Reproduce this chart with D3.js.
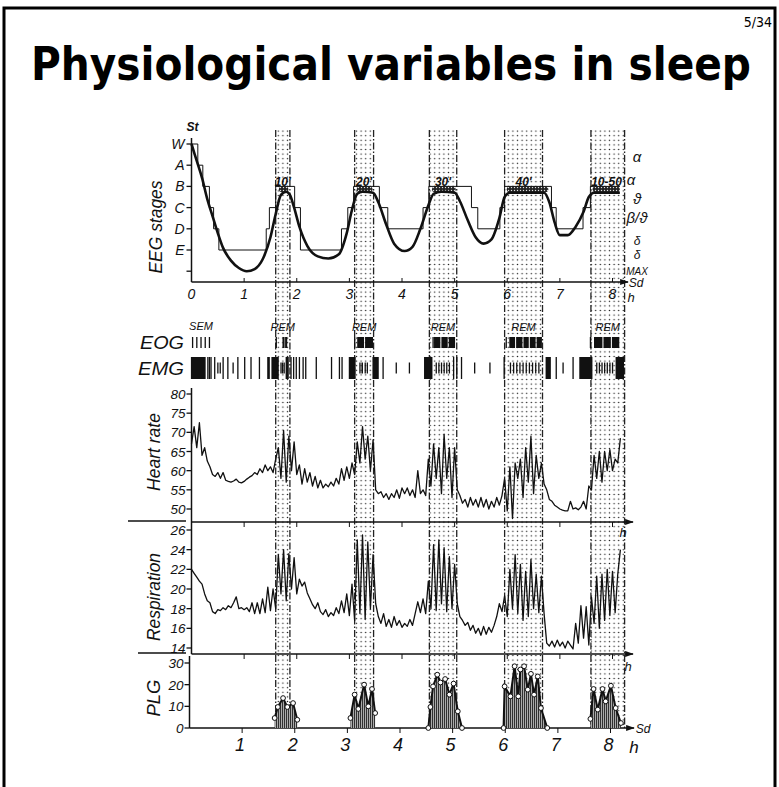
<!DOCTYPE html>
<html><head><meta charset="utf-8">
<script src="https://cdn.jsdelivr.net/npm/d3@7"></script>
<style>body{margin:0;background:#fff} svg{display:block}</style>
</head><body>
<script>
// ---------------- DATA ----------------
const titleText = "Physiological variables in sleep";
const pageText = "5/34";
const hourTicks = [0,1,2,3,4,5,6,7,8];
const stageLetters = ["W","A","B","C","D","E",""];
const waveLabels = ["α","α","ϑ","β/ϑ","δ","δ","MAX"];
const waveLevels = [0.66,1.72,2.64,3.5,4.55,5.22,5.97];
const remBands = [[1.6,1.87],[3.1,3.46],[4.52,5.04],[5.95,6.67],[7.59,8.23]];
const remMinutes = ["10'","20'","30'","40'","10-50'"];
const remHatch = [[1.66,1.84],[3.14,3.44],[4.57,5.02],[5.99,6.78],[7.62,8.14]];
const hypnoSteps = [[0,0],[0.12,1],[0.215,2],[0.34,3],[0.42,4],[0.52,5],[1.42,4],[1.48,3],[1.6,2],[1.96,3],[2.07,5],[2.85,4],[2.97,3],[3.08,2],[3.57,3],[3.73,4],[4.4,3],[4.51,2],[5.32,3],[5.44,4],[5.86,3],[5.95,2],[6.84,3],[6.93,4],[7.44,3],[7.58,2],[8.14,2]];
const eegSmooth = [[0,0],[0.1,0.8],[0.2,1.6],[0.3,2.6],[0.4,3.4],[0.5,4.2],[0.6,4.9],[0.75,5.5],[0.9,5.85],[1.05,6.0],[1.2,5.9],[1.35,5.45],[1.5,4.4],[1.6,3.3],[1.7,2.4],[1.8,2.25],[1.87,2.4],[1.95,3.0],[2.05,3.9],[2.2,4.8],[2.4,5.3],[2.6,5.4],[2.8,5.2],[2.95,4.2],[3.05,3.1],[3.15,2.35],[3.25,2.25],[3.45,2.3],[3.55,2.75],[3.7,3.8],[3.85,4.7],[4.05,5.05],[4.2,4.85],[4.35,4.0],[4.5,2.9],[4.6,2.35],[4.75,2.25],[5.0,2.3],[5.1,2.7],[5.25,3.6],[5.4,4.4],[5.55,4.7],[5.7,4.5],[5.85,3.5],[5.95,2.5],[6.05,2.3],[6.7,2.3],[6.8,2.75],[6.9,3.7],[7.0,4.3],[7.15,4.3],[7.3,3.9],[7.45,3.2],[7.55,2.5],[7.65,2.3],[8.14,2.3]];
const traceStep = 0.05;
const hrValues = [67,71.5,66,72.5,64,66,62.5,61,59,58.5,59.5,58,59.5,57.5,57.2,57,57.3,57.8,57,56.8,
57.2,57.8,58.3,58.7,59.5,59,60.5,59.5,61.5,60,61,59.5,63,66,58,70.5,57,69,60,67.5,
59,61.5,56.5,60.5,57,59.5,56,58.5,55.5,57.5,55.5,56.5,55.8,57,56,58,56.5,60.5,57.5,61,
58,62,59,67.5,62,71.5,63,69,60,68,55,54,54.5,53,54,52.5,54,53,55,52.8,
55.5,54,55.5,53.5,55,53,60,54,55,53.5,63,56,67,58,66,54,69.5,58,66,53,
66,55,53.5,51.5,52.5,50.5,53,51,52.5,50.5,53,50.5,52.5,50,52,50.5,53,51,53.5,58,
49.5,61,47.5,62,58,63,53,66,57,69,54,64,58,62,56.5,55,52.5,52,51,50.5,
50,49.7,49.5,49.5,52,50,50.3,49.8,50.5,52,50,56,55,64,58,65,57,65,60,65.5,
60,63,62,68.5];
const respValues = [22,21.6,21.2,20.8,20.5,19.5,18.8,18.6,17.7,17.5,17.9,17.8,18.1,17.9,18.3,18.1,18.6,19.2,18,18.1,
17.9,18.1,17.7,18.6,17.5,18.6,17.5,19,17.6,20.2,17.8,20,18,23.5,19.5,24,18.8,23.6,20,23.2,
19.5,21,20.3,20.7,19.6,19,18.4,18,18.6,17.7,17.4,17.9,17.2,17.6,17.3,18.1,17.5,18.8,17.6,19.5,
17.3,20.5,16.8,25,17.5,25.5,16.9,24.8,18,23.5,18.5,17.2,16.5,17.5,16.2,16.9,16.1,17.2,16.3,16.8,
16.1,16.5,16.2,16.9,16.3,17.5,18.7,17.6,19,17.5,20.8,18,24.5,17.8,25,18.5,24.2,17.7,23.3,18,
22.5,18.5,17.2,16.8,16.3,16.6,15.8,16.3,15.5,16,15.3,16.2,15.4,16.1,15.6,16.3,17.2,18.5,17.7,19.3,
17.2,22,18,23.5,17.5,22.5,16.8,21.8,17.2,23,18,21.5,17.6,21.3,17.5,14.5,14.2,14.7,14.1,14.8,
14.2,14.6,14.0,14.7,14.3,13.9,16.5,14.5,18.3,15,18.2,14.3,19.2,16.5,21.3,16,21.5,16.8,22,17.3,
21.8,17.6,21.5,24];
const hrTicks = [50,55,60,65,70,75,80];
const respTicks = [14,16,18,20,22,24,26];
const plgTicks = [0,10,20,30];
const plgSeries = [
 [[1.58,4.6],[1.64,9.7],[1.74,13.8],[1.82,9.7],[1.93,11.5],[2.01,3.8]],
 [[3.02,4.6],[3.1,15.4],[3.17,8.8],[3.28,20],[3.36,10],[3.43,18],[3.49,6.9]],
 [[4.5,0],[4.54,9.7],[4.59,19.2],[4.67,24.6],[4.73,21],[4.82,22.6],[4.9,15.4],[4.98,20.5],[5.06,7.7],[5.14,0]],
 [[5.93,0],[5.95,19.2],[6.06,14.6],[6.14,28.5],[6.21,14.6],[6.25,27],[6.32,28.5],[6.39,17.7],[6.45,25],[6.51,15.4],[6.58,23.8],[6.64,9.2],[6.76,0]],
 [[7.58,4.2],[7.64,18],[7.72,8.5],[7.81,18],[7.87,12.3],[7.97,19.5],[8.06,9.2],[8.16,2.3]]
];
const eogMarks = [[0.02,0.02],[0.1,0.1],[0.18,0.18],[0.26,0.26],[0.34,0.34],
 [1.61,1.61],[1.74,1.78],[1.79,1.83],
 [3.1,3.1],[3.16,3.29],[3.31,3.46],
 [4.59,4.59],[4.62,4.74],[4.76,4.88],[4.9,5.02],
 [5.98,5.98],[6.05,6.16],[6.18,6.3],[6.32,6.42],[6.44,6.55],[6.57,6.67],
 [7.58,7.58],[7.66,7.82],[7.84,7.98],[8.0,8.14]];
const emgMarks = [[0,0.28,1],[0.31,0.31,1],[0.34,0.34,1],[0.37,0.37,1],[0.44,0.44,1],[0.5,0.5,0.5],[0.545,0.545,0.5],[0.6,0.6,1],[0.69,0.69,1],[0.79,0.79,0.5],[0.88,0.88,1],[1.01,1.01,1],[1.13,1.13,1],[1.29,1.29,1],
 [1.45,1.5,1],[1.53,1.67,1],[1.7,1.7,0.5],[1.73,1.73,0.5],[1.76,1.76,0.5],[1.8,1.86,1],[1.89,1.89,1],[1.94,1.94,1],[1.99,1.99,1],[2.05,2.05,1],[2.12,2.12,1],[2.17,2.17,1],
 [2.37,2.37,1],[2.66,2.66,1],[2.81,2.81,1],[2.86,2.86,1],[3.0,3.13,1],[3.2,3.2,0.5],[3.24,3.27,0.5],[3.3,3.3,0.5],[3.34,3.34,0.5],[3.45,3.57,1],[3.64,3.64,1],[3.89,3.89,0.5],[4.14,4.14,0.5],
 [4.43,4.59,1],[4.65,4.65,0.5],[4.7,4.7,0.5],[4.75,4.75,0.5],[4.8,4.8,0.5],[4.85,4.85,0.5],[4.9,4.9,0.5],[4.98,4.98,1],[5.04,5.04,1],[5.13,5.13,1],[5.38,5.38,0.5],[5.67,5.67,0.5],[5.94,5.94,1],
 [6.06,6.06,0.5],[6.12,6.12,0.5],[6.18,6.18,0.5],[6.24,6.24,0.5],[6.3,6.3,0.5],[6.36,6.36,0.5],[6.42,6.42,0.5],[6.48,6.48,0.5],[6.54,6.54,0.5],[6.6,6.6,0.5],[6.74,6.84,1],[6.93,6.93,1],[7.06,7.06,0.5],[7.25,7.25,1],
 [7.38,7.63,1],[7.7,7.7,0.5],[7.75,7.75,0.5],[7.8,7.8,0.5],[7.85,7.85,0.5],[7.9,7.9,0.5],[7.95,7.95,0.5],[8.0,8.0,0.5],[8.07,8.23,1]];

// ---------------- DRAW ----------------
const W = 779, H = 787;
const svg = d3.select("body").append("svg").attr("width", W).attr("height", H);
const ink = "#111";
const FONT = "'Liberation Sans', Arial, sans-serif";
const defs = svg.append("defs");
const dots = defs.append("pattern").attr("id","dots").attr("patternUnits","userSpaceOnUse").attr("width",4.6).attr("height",4.6);
dots.append("circle").attr("cx",2.3).attr("cy",2.3).attr("r",0.75).attr("fill","#222");
const vh = defs.append("pattern").attr("id","vhatch").attr("patternUnits","userSpaceOnUse").attr("width",2).attr("height",4);
vh.append("rect").attr("width",2).attr("height",4).attr("fill","#aaa");
vh.append("rect").attr("width",0.9).attr("height",4).attr("fill","#222");
const xh = defs.append("pattern").attr("id","xhatch").attr("patternUnits","userSpaceOnUse").attr("width",3).attr("height",3);
xh.append("rect").attr("width",3).attr("height",3).attr("fill","#222");
xh.append("circle").attr("cx",1.5).attr("cy",1.5).attr("r",0.7).attr("fill","#ddd");
defs.append("marker").attr("id","arrow").attr("viewBox","0 -4 10 8").attr("refX",9).attr("refY",0)
  .attr("markerWidth",9).attr("markerHeight",7).attr("markerUnits","userSpaceOnUse").attr("orient","auto")
  .append("path").attr("d","M0,-3.5L10,0L0,3.5Z").attr("fill",ink);

// frame
svg.append("path").attr("d","M4,787 L4,8 L775,8 L775,787").attr("fill","none").attr("stroke","#000").attr("stroke-width",3);
svg.append("text").attr("x",772).attr("y",27).attr("text-anchor","end")
  .attr("font-family","'Liberation Sans Narrow','DejaVu Sans Condensed',sans-serif").attr("font-size",14)
  .text(pageText);
svg.append("text").attr("x",391).attr("y",80).attr("text-anchor","middle")
  .attr("font-family","'Liberation Sans Narrow','DejaVu Sans Condensed',sans-serif").attr("font-weight","bold").attr("font-size",46)
  .attr("textLength",720).attr("lengthAdjust","spacingAndGlyphs").text(titleText);

// scales
const x = d3.scaleLinear().domain([0,8]).range([191.5,612.5]);
const yEEG = d3.scaleLinear().domain([0,5]).range([144,250]);
const yHR = d3.scaleLinear().domain([50,80]).range([509,394]);
const yResp = d3.scaleLinear().domain([14,26]).range([648,530]);
const yPLG = d3.scaleLinear().domain([0,30]).range([728,663]);
const bandTop = 130, bandBot = 728;

// REM bands
const bands = svg.append("g");
remBands.forEach(b => {
  bands.append("rect").attr("x",x(b[0])).attr("y",bandTop).attr("width",x(b[1])-x(b[0])).attr("height",bandBot-bandTop).attr("fill","url(#dots)");
  [b[0],b[1]].forEach(e => bands.append("line").attr("x1",x(e)).attr("x2",x(e)).attr("y1",bandTop).attr("y2",bandBot)
    .attr("stroke","#222").attr("stroke-width",1.3).attr("stroke-dasharray","7,2,1.5,2"));
});

function txt(g, xx, yy, s, size, anchor, opts={}) {
  const t = g.append("text").attr("x",xx).attr("y",yy).attr("font-size",size).attr("text-anchor",anchor||"start")
    .attr("font-family",FONT).attr("font-style","italic").attr("fill",ink).text(s);
  if (opts.weight) t.attr("font-weight",opts.weight);
  return t;
}
function vlabel(s, cx, cy, len) {
  svg.append("text").attr("transform",`translate(${cx},${cy}) rotate(-90)`).attr("text-anchor","middle")
    .attr("dominant-baseline","central").attr("font-family",FONT).attr("font-style","italic").attr("font-size",19)
    .attr("textLength",len).attr("lengthAdjust","spacingAndGlyphs").attr("fill",ink).text(s);
}

// ---- EEG panel ----
const g1 = svg.append("g");
g1.append("line").attr("x1",x(0)).attr("x2",x(0)).attr("y1",282).attr("y2",138).attr("stroke",ink).attr("stroke-width",1.5);
g1.append("line").attr("x1",x(0)).attr("x2",628).attr("y1",282).attr("y2",282).attr("stroke",ink).attr("stroke-width",1.5).attr("marker-end","url(#arrow)");
stageLetters.forEach((s,i) => {
  g1.append("line").attr("x1",x(0)-5).attr("x2",x(0)).attr("y1",yEEG(i)).attr("y2",yEEG(i)).attr("stroke",ink).attr("stroke-width",1.3);
  if (s) txt(g1, x(0)-7, yEEG(i)+5, s, 14, "end");
});
txt(g1, x(0)+1, 131, "St", 12, "middle", {weight:"bold"});
hourTicks.forEach(h => {
  g1.append("line").attr("x1",x(h)).attr("x2",x(h)).attr("y1",282).attr("y2",278).attr("stroke",ink);
  txt(g1, x(h), 299, String(h), 14, "middle");
});
txt(g1, 636, 287, "Sd", 12, "middle");
txt(g1, 631, 302, "h", 13, "middle");
waveLabels.forEach((s,i) => txt(g1, i===1?631:637, yEEG(waveLevels[i])+4.5, s, s==="MAX"?10:(s==="δ"?12:15), "middle"));
remHatch.forEach(r => g1.append("rect").attr("x",x(r[0])).attr("y",yEEG(2)).attr("width",x(r[1])-x(r[0])).attr("height",yEEG(2.28)-yEEG(2)).attr("rx",3).attr("fill","url(#xhatch)"));
g1.append("path").datum(hypnoSteps).attr("fill","none").attr("stroke",ink).attr("stroke-width",1)
  .attr("d", d3.line().x(d=>x(d[0])).y(d=>yEEG(d[1])).curve(d3.curveStepAfter));
g1.append("path").datum(eegSmooth).attr("fill","none").attr("stroke",ink).attr("stroke-width",2.6)
  .attr("d", d3.line().x(d=>x(d[0])).y(d=>yEEG(d[1])).curve(d3.curveMonotoneX));
remMinutes.forEach((s,i) => {
  const c = i===4 ? x(remBands[i][0])+17 : (x(remBands[i][0])+x(remBands[i][1]))/2;
  txt(g1, c, 186, s, 12, "middle", {weight:"bold"});
});
vlabel("EEG stages", 155, 227, 93);

// ---- EOG / EMG ----
const g2 = svg.append("g");
txt(g2, 140, 349, "EOG", 18, "start").attr("textLength",44).attr("lengthAdjust","spacingAndGlyphs");
txt(g2, 138, 375, "EMG", 18, "start").attr("textLength",46).attr("lengthAdjust","spacingAndGlyphs");
txt(g2, 201, 330, "SEM", 11, "middle");
remBands.forEach(b => txt(g2, (x(b[0])+x(b[1]))/2, 331, "REM", 11, "middle"));
eogMarks.forEach(m => g2.append("rect").attr("x",x(m[0])-0.6).attr("width",Math.max(1.3,x(m[1])-x(m[0])))
  .attr("y",337).attr("height",11).attr("fill",ink));
emgMarks.forEach(m => {
  const hgt = m[2]===1 ? 22 : 11;
  g2.append("rect").attr("x",x(m[0])-0.6).attr("width",Math.max(1.3,x(m[1])-x(m[0])))
    .attr("y",368-hgt/2).attr("height",hgt).attr("fill",ink);
});

// ---- Heart rate ----
const g3 = svg.append("g");
g3.append("line").attr("x1",x(0)).attr("x2",x(0)).attr("y1",522).attr("y2",388).attr("stroke",ink).attr("stroke-width",1.5);
g3.append("line").attr("x1",x(0)).attr("x2",633).attr("y1",522).attr("y2",522).attr("stroke",ink).attr("stroke-width",1.5).attr("marker-end","url(#arrow)");
g3.append("line").attr("x1",128).attr("x2",186).attr("y1",521).attr("y2",521).attr("stroke",ink).attr("stroke-width",1.3);
hrTicks.forEach(t => {
  g3.append("line").attr("x1",x(0)-5).attr("x2",x(0)).attr("y1",yHR(t)).attr("y2",yHR(t)).attr("stroke",ink).attr("stroke-width",1.3);
  txt(g3, x(0)-6, yHR(t)+5, String(t), 13.5, "end");
});
hourTicks.slice(1).forEach(h => g3.append("line").attr("x1",x(h)).attr("x2",x(h)).attr("y1",522).attr("y2",527).attr("stroke",ink));
txt(g3, 623, 537, "h", 13, "middle");
g3.append("path").datum(hrValues).attr("fill","none").attr("stroke",ink).attr("stroke-width",1.3).attr("stroke-linejoin","round")
  .attr("d", d3.line().x((d,i)=>x(i*traceStep)).y(d=>yHR(d)));
vlabel("Heart rate", 153, 452, 78);

// ---- Respiration ----
const g4 = svg.append("g");
g4.append("line").attr("x1",x(0)).attr("x2",x(0)).attr("y1",654).attr("y2",522).attr("stroke",ink).attr("stroke-width",1.5);
g4.append("line").attr("x1",x(0)).attr("x2",633).attr("y1",654).attr("y2",654).attr("stroke",ink).attr("stroke-width",1.5).attr("marker-end","url(#arrow)");
g4.append("line").attr("x1",138).attr("x2",186).attr("y1",653).attr("y2",653).attr("stroke",ink).attr("stroke-width",1.3);
respTicks.forEach(t => {
  g4.append("line").attr("x1",x(0)-5).attr("x2",x(0)).attr("y1",yResp(t)).attr("y2",yResp(t)).attr("stroke",ink).attr("stroke-width",1.3);
  txt(g4, x(0)-6, yResp(t)+5, String(t), 13.5, "end");
});
hourTicks.slice(1).forEach(h => g4.append("line").attr("x1",x(h)).attr("x2",x(h)).attr("y1",654).attr("y2",659).attr("stroke",ink));
txt(g4, 628, 671, "h", 13, "middle");
g4.append("path").datum(respValues).attr("fill","none").attr("stroke",ink).attr("stroke-width",1.3).attr("stroke-linejoin","round")
  .attr("d", d3.line().x((d,i)=>x(i*traceStep)).y(d=>yResp(d)));
vlabel("Respiration", 153, 597, 88);

// ---- PLG ----
const g5 = svg.append("g");
g5.append("line").attr("x1",x(0)-2).attr("x2",x(0)-2).attr("y1",728).attr("y2",656).attr("stroke",ink).attr("stroke-width",1.5);
g5.append("line").attr("x1",x(0)-2).attr("x2",634).attr("y1",728).attr("y2",728).attr("stroke",ink).attr("stroke-width",1.5).attr("marker-end","url(#arrow)");
plgTicks.forEach(t => {
  g5.append("line").attr("x1",x(0)-7).attr("x2",x(0)-2).attr("y1",yPLG(t)).attr("y2",yPLG(t)).attr("stroke",ink).attr("stroke-width",1.3);
  txt(g5, x(0)-8, yPLG(t)+5, String(t), 13.5, "end");
});
hourTicks.slice(1).forEach(h => {
  g5.append("line").attr("x1",x(h)-2).attr("x2",x(h)-2).attr("y1",728).attr("y2",733).attr("stroke",ink);
  txt(g5, x(h)-4, 751, String(h), 18, "middle");
});
txt(g5, 643, 733, "Sd", 12, "middle");
txt(g5, 634, 753, "h", 17, "middle");
plgSeries.forEach(s => {
  g5.append("path").datum(s).attr("fill","url(#vhatch)")
    .attr("d", d3.area().x(d=>x(d[0])).y0(yPLG(0)).y1(d=>yPLG(d[1])));
  g5.append("path").datum(s).attr("fill","none").attr("stroke",ink).attr("stroke-width",2)
    .attr("d", d3.line().x(d=>x(d[0])).y(d=>yPLG(d[1])));
  g5.selectAll(null).data(s).enter().append("circle").attr("cx",d=>x(d[0])).attr("cy",d=>yPLG(d[1])).attr("r",2.4)
    .attr("fill","#fff").attr("stroke",ink).attr("stroke-width",1);
});
vlabel("PLG", 153, 698, 37);
</script>
</body></html>
